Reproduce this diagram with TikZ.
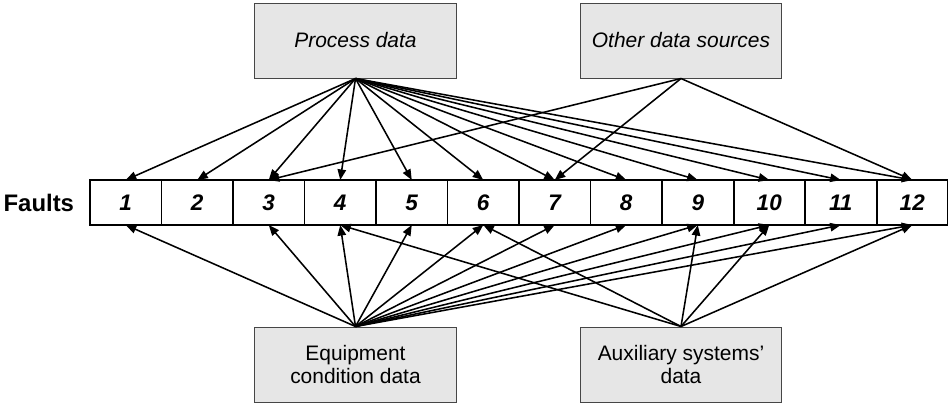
\documentclass[tikz,border=0pt]{standalone}
\usepackage{fontspec}
\setmainfont{Liberation Sans}
\usepackage{tikz}
\usetikzlibrary{arrows.meta,positioning}

\definecolor{boxgray}{RGB}{230,230,230}
\definecolor{boxline}{RGB}{70,70,70}

\begin{document}
\begin{tikzpicture}[x=0.025cm,y=-0.025cm]
        \useasboundingbox (0,0) rectangle (948,403);
        % data sources
        \begin{scope}[every node/.style={draw=boxline,line width=0.7pt,fill=boxgray,
            minimum width=5.025cm,minimum height=1.875cm,align=center,
            font=\fontsize{14.9}{17}\selectfont}]
          \node (pd) at (355.5,40.5) {\itshape Process data};
          \node (ods) at (681,40.5) {\itshape Other data sources};
          \node (eq) at (355.5,364.5) {Equipment\\condition data};
          \node (aux) at (681,364.5) {Auxiliary systems’\\data};
        \end{scope}
        % fault row
        \node[font=\fontsize{17}{19}\selectfont\bfseries,anchor=east] (faults) at (79,202.5) {Faults};
        \begin{scope}[every node/.style={draw,line width=1.4pt,outer sep=0pt,
            minimum width=1.7875cm,minimum height=1.125cm,text height=11pt,text depth=0pt,
            font=\fontsize{16}{18}\selectfont\bfseries\itshape}]
          \foreach \i in {1,...,12}
            \node (c\i) at ({90+71.5*(\i-0.5)},202.5) {\i};
        \end{scope}
        \begin{scope}[every edge/.style={draw=black,line width=1.1pt,-{Triangle[length=7.5pt,width=6pt]}}]
          \foreach \i in {1,...,12}
            \path (pd.south) edge (c\i.north);
          \foreach \i in {3,7,12}
            \path (ods.south) edge (c\i.north);
          \foreach \i in {1,3,4,5,6,7,8,9,10,11,12}
            \path (eq.north) edge (c\i.south);
          \foreach \i in {4,6,9,10,12}
            \path (aux.north) edge (c\i.south);
        \end{scope}
      \end{tikzpicture}
\end{document}
